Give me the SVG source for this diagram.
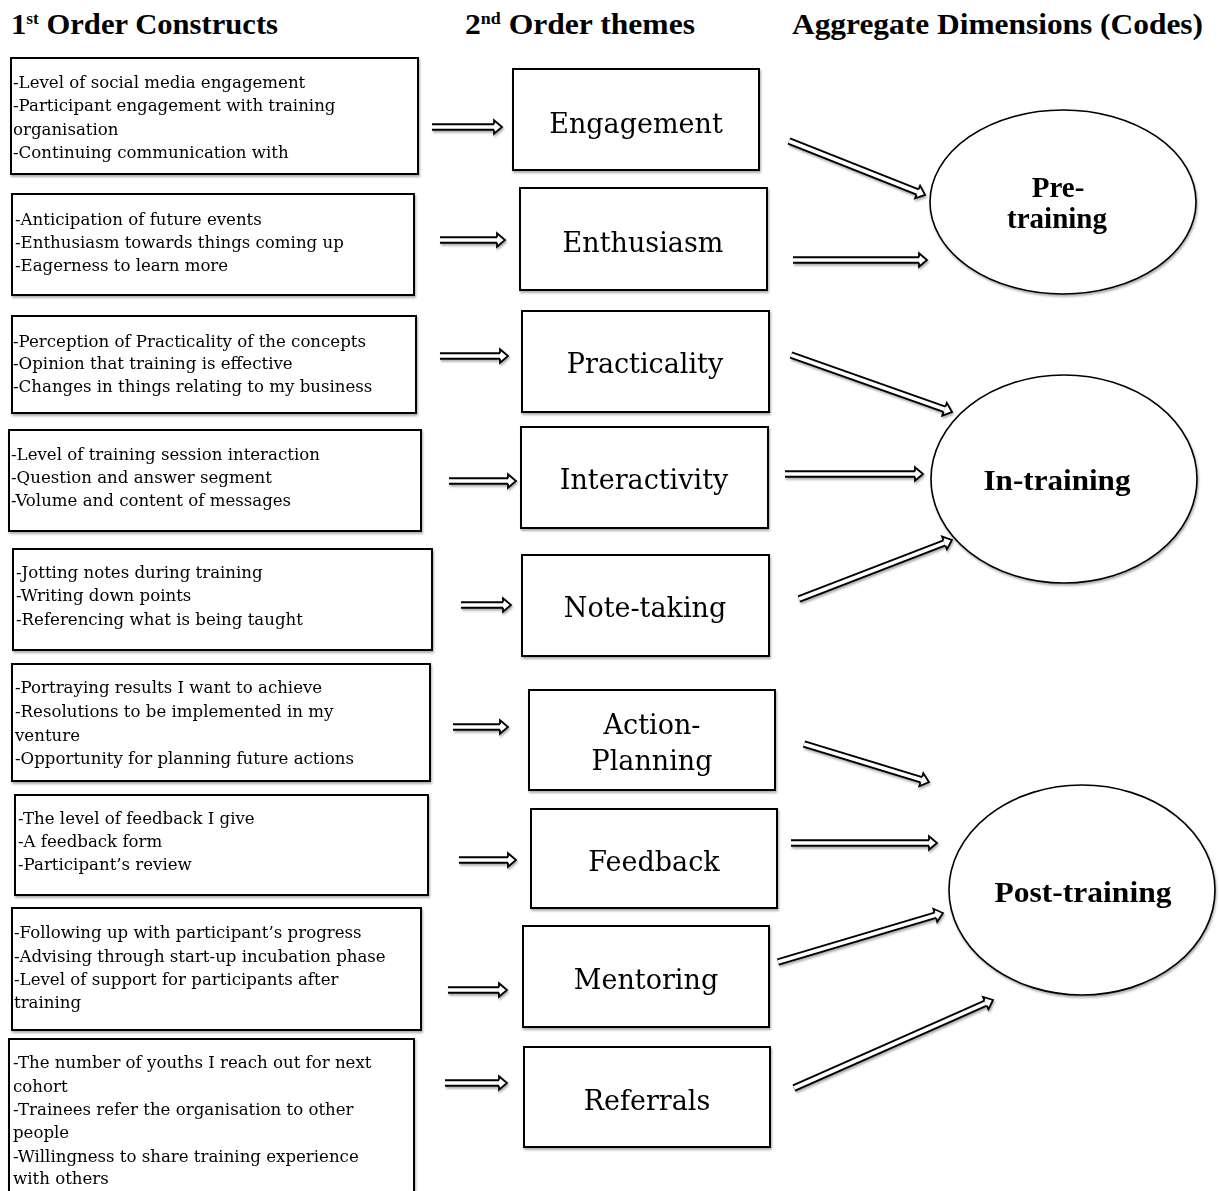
<svg xmlns="http://www.w3.org/2000/svg" width="1219" height="1191" viewBox="0 0 1219 1191">
  <style>
    .hdr { font-family: "Liberation Serif", serif; font-weight: bold; font-size: 30px; fill: #000; }
    .sup { font-size: 17px; }
    .item { font-family: "DejaVu Serif", "Liberation Serif", serif; font-size: 16.6px; fill: #000; }
    .theme { font-family: "DejaVu Serif", "Liberation Serif", serif; font-size: 27px; fill: #000; text-anchor: middle; }
    .dim { font-family: "Liberation Serif", serif; font-weight: bold; font-size: 29px; fill: #000; text-anchor: middle; }
    .box { fill: #fff; stroke: #000; stroke-width: 2; }
    .oval { fill: #fff; stroke: #000; stroke-width: 1.6; }
    .shaft-o { stroke: #000; stroke-width: 7.4; fill: none; }
    .shaft-i { stroke: #fff; stroke-width: 3.6; fill: none; marker-end: url(#head); }
    .node, .connectors { filter: url(#soft); }
  </style>
  <defs>
    <filter id="soft" x="-10%" y="-10%" width="120%" height="130%">
      <feDropShadow dx="1" dy="2" stdDeviation="1.3" flood-color="#000" flood-opacity="0.32"/>
    </filter>
    <marker id="head" markerUnits="userSpaceOnUse" markerWidth="14" markerHeight="18" refX="0" refY="0" orient="auto" style="overflow:visible">
      <path d="M0,-2.75 L0,-6.8 L8,0 L0,6.8 L0,2.75" fill="#fff" stroke="#000" stroke-width="1.8" stroke-linejoin="miter"/>
    </marker>
  </defs>

  <rect width="1219" height="1191" fill="#fff"/>

  <!-- column headings -->
  <g id="headings">
    <text class="hdr" x="11" y="34" textLength="267" lengthAdjust="spacingAndGlyphs">1<tspan class="sup" dy="-10">st</tspan><tspan dy="10"> Order Constructs</tspan></text>
    <text class="hdr" x="465" y="34" textLength="230" lengthAdjust="spacingAndGlyphs">2<tspan class="sup" dy="-10">nd</tspan><tspan dy="10"> Order themes</tspan></text>
    <text class="hdr" x="792" y="34" textLength="411" lengthAdjust="spacingAndGlyphs">Aggregate Dimensions (Codes)</text>
  </g>

  <!-- first order constructs -->
  <g id="c1" class="node">
    <rect class="box" x="11" y="58" width="407" height="116"/>
    <text class="item"><tspan x="13" y="88">-Level of social media engagement</tspan><tspan x="13" y="111">-Participant engagement with training</tspan><tspan x="13" y="135">organisation</tspan><tspan x="13" y="158">-Continuing communication with</tspan></text>
  </g>
  <g id="c2" class="node">
    <rect class="box" x="12" y="194" width="402" height="101"/>
    <text class="item"><tspan x="15" y="225">-Anticipation of future events</tspan><tspan x="15" y="248">-Enthusiasm towards things coming up</tspan><tspan x="15" y="271">-Eagerness to learn more</tspan></text>
  </g>
  <g id="c3" class="node">
    <rect class="box" x="12" y="316" width="404" height="97"/>
    <text class="item"><tspan x="13" y="347">-Perception of Practicality of the concepts</tspan><tspan x="13" y="369">-Opinion that training is effective</tspan><tspan x="13" y="392">-Changes in things relating to my business</tspan></text>
  </g>
  <g id="c4" class="node">
    <rect class="box" x="9" y="430" width="412" height="101"/>
    <text class="item"><tspan x="11" y="460">-Level of training session interaction</tspan><tspan x="11" y="483">-Question and answer segment</tspan><tspan x="11" y="506">-Volume and content of messages</tspan></text>
  </g>
  <g id="c5" class="node">
    <rect class="box" x="13" y="549" width="419" height="101"/>
    <text class="item"><tspan x="16" y="578">-Jotting notes during training</tspan><tspan x="16" y="601">-Writing down points</tspan><tspan x="16" y="625">-Referencing what is being taught</tspan></text>
  </g>
  <g id="c6" class="node">
    <rect class="box" x="12" y="664" width="418" height="117"/>
    <text class="item"><tspan x="15" y="693">-Portraying results I want to achieve</tspan><tspan x="15" y="717">-Resolutions to be implemented in my</tspan><tspan x="15" y="741">venture</tspan><tspan x="15" y="764">-Opportunity for planning future actions</tspan></text>
  </g>
  <g id="c7" class="node">
    <rect class="box" x="15" y="795" width="413" height="100"/>
    <text class="item"><tspan x="18" y="824">-The level of feedback I give</tspan><tspan x="18" y="847">-A feedback form</tspan><tspan x="18" y="870">-Participant’s review</tspan></text>
  </g>
  <g id="c8" class="node">
    <rect class="box" x="12" y="908" width="409" height="122"/>
    <text class="item"><tspan x="14" y="938">-Following up with participant’s progress</tspan><tspan x="14" y="962">-Advising through start-up incubation phase</tspan><tspan x="14" y="985">-Level of support for participants after</tspan><tspan x="14" y="1008">training</tspan></text>
  </g>
  <g id="c9" class="node">
    <rect class="box" x="9" y="1039" width="405" height="160"/>
    <text class="item"><tspan x="13" y="1068">-The number of youths I reach out for next</tspan><tspan x="13" y="1092">cohort</tspan><tspan x="13" y="1115">-Trainees refer the organisation to other</tspan><tspan x="13" y="1138">people</tspan><tspan x="13" y="1162">-Willingness to share training experience</tspan><tspan x="13" y="1184">with others</tspan></text>
  </g>

  <!-- second order themes -->
  <g id="t-engagement" class="node">
    <rect class="box" x="513" y="69" width="246" height="101"/>
    <text class="theme" x="636" y="133">Engagement</text>
  </g>
  <g id="t-enthusiasm" class="node">
    <rect class="box" x="520" y="188" width="247" height="102"/>
    <text class="theme" x="643" y="252">Enthusiasm</text>
  </g>
  <g id="t-practicality" class="node">
    <rect class="box" x="522" y="311" width="247" height="101"/>
    <text class="theme" x="645" y="373">Practicality</text>
  </g>
  <g id="t-interactivity" class="node">
    <rect class="box" x="521" y="427" width="247" height="101"/>
    <text class="theme" x="644" y="489">Interactivity</text>
  </g>
  <g id="t-notetaking" class="node">
    <rect class="box" x="522" y="555" width="247" height="101"/>
    <text class="theme" x="645" y="617">Note-taking</text>
  </g>
  <g id="t-actionplanning" class="node">
    <rect class="box" x="529" y="690" width="246" height="100"/>
    <text class="theme" x="652" y="734">Action-</text>
    <text class="theme" x="652" y="770">Planning</text>
  </g>
  <g id="t-feedback" class="node">
    <rect class="box" x="531" y="809" width="246" height="99"/>
    <text class="theme" x="654" y="871">Feedback</text>
  </g>
  <g id="t-mentoring" class="node">
    <rect class="box" x="523" y="926" width="246" height="101"/>
    <text class="theme" x="646" y="989">Mentoring</text>
  </g>
  <g id="t-referrals" class="node">
    <rect class="box" x="524" y="1047" width="246" height="100"/>
    <text class="theme" x="647" y="1110">Referrals</text>
  </g>

  <!-- aggregate dimensions -->
  <g id="d-pre" class="node">
    <ellipse class="oval" cx="1063" cy="202" rx="133" ry="92"/>
    <text class="dim" x="1058" y="197">Pre-</text>
    <text class="dim" x="1057" y="228" textLength="100" lengthAdjust="spacingAndGlyphs">training</text>
  </g>
  <g id="d-in" class="node">
    <ellipse class="oval" cx="1064" cy="479" rx="133" ry="104"/>
    <text class="dim" x="1057" y="490" textLength="147" lengthAdjust="spacingAndGlyphs">In-training</text>
  </g>
  <g id="d-post" class="node">
    <ellipse class="oval" cx="1082" cy="890" rx="133" ry="105"/>
    <text class="dim" x="1083" y="902" textLength="177" lengthAdjust="spacingAndGlyphs">Post-training</text>
  </g>

  <!-- hollow double-line arrows: black shaft, white core, open head -->
  <g id="connectors" class="connectors">
    <line class="shaft-o" x1="432" y1="127" x2="494" y2="127"/><line class="shaft-i" x1="432" y1="127" x2="494" y2="127"/>
    <line class="shaft-o" x1="440" y1="240" x2="497" y2="240"/><line class="shaft-i" x1="440" y1="240" x2="497" y2="240"/>
    <line class="shaft-o" x1="440" y1="356" x2="500" y2="356"/><line class="shaft-i" x1="440" y1="356" x2="500" y2="356"/>
    <line class="shaft-o" x1="449" y1="481" x2="508" y2="481"/><line class="shaft-i" x1="449" y1="481" x2="508" y2="481"/>
    <line class="shaft-o" x1="461" y1="605" x2="503" y2="605"/><line class="shaft-i" x1="461" y1="605" x2="503" y2="605"/>
    <line class="shaft-o" x1="453" y1="727" x2="500" y2="727"/><line class="shaft-i" x1="453" y1="727" x2="500" y2="727"/>
    <line class="shaft-o" x1="459" y1="860" x2="508" y2="860"/><line class="shaft-i" x1="459" y1="860" x2="508" y2="860"/>
    <line class="shaft-o" x1="448" y1="990" x2="499" y2="990"/><line class="shaft-i" x1="448" y1="990" x2="499" y2="990"/>
    <line class="shaft-o" x1="445" y1="1083" x2="499" y2="1083"/><line class="shaft-i" x1="445" y1="1083" x2="499" y2="1083"/>

    <line class="shaft-o" x1="789" y1="141" x2="917.6" y2="192"/><line class="shaft-i" x1="789" y1="141" x2="917.6" y2="192"/>
    <line class="shaft-o" x1="793" y1="260" x2="919" y2="260"/><line class="shaft-i" x1="793" y1="260" x2="919" y2="260"/>
    <line class="shaft-o" x1="791" y1="355" x2="944.5" y2="409.3"/><line class="shaft-i" x1="791" y1="355" x2="944.5" y2="409.3"/>
    <line class="shaft-o" x1="785" y1="474" x2="915" y2="474"/><line class="shaft-i" x1="785" y1="474" x2="915" y2="474"/>
    <line class="shaft-o" x1="799" y1="599" x2="944.5" y2="542.9"/><line class="shaft-i" x1="799" y1="599" x2="944.5" y2="542.9"/>
    <line class="shaft-o" x1="804" y1="744" x2="921.3" y2="779.7"/><line class="shaft-i" x1="804" y1="744" x2="921.3" y2="779.7"/>
    <line class="shaft-o" x1="791" y1="843" x2="929" y2="843"/><line class="shaft-i" x1="791" y1="843" x2="929" y2="843"/>
    <line class="shaft-o" x1="778" y1="962" x2="935.3" y2="915.3"/><line class="shaft-i" x1="778" y1="962" x2="935.3" y2="915.3"/>
    <line class="shaft-o" x1="794" y1="1088" x2="985.7" y2="1003.2"/><line class="shaft-i" x1="794" y1="1088" x2="985.7" y2="1003.2"/>
  </g>
</svg>
